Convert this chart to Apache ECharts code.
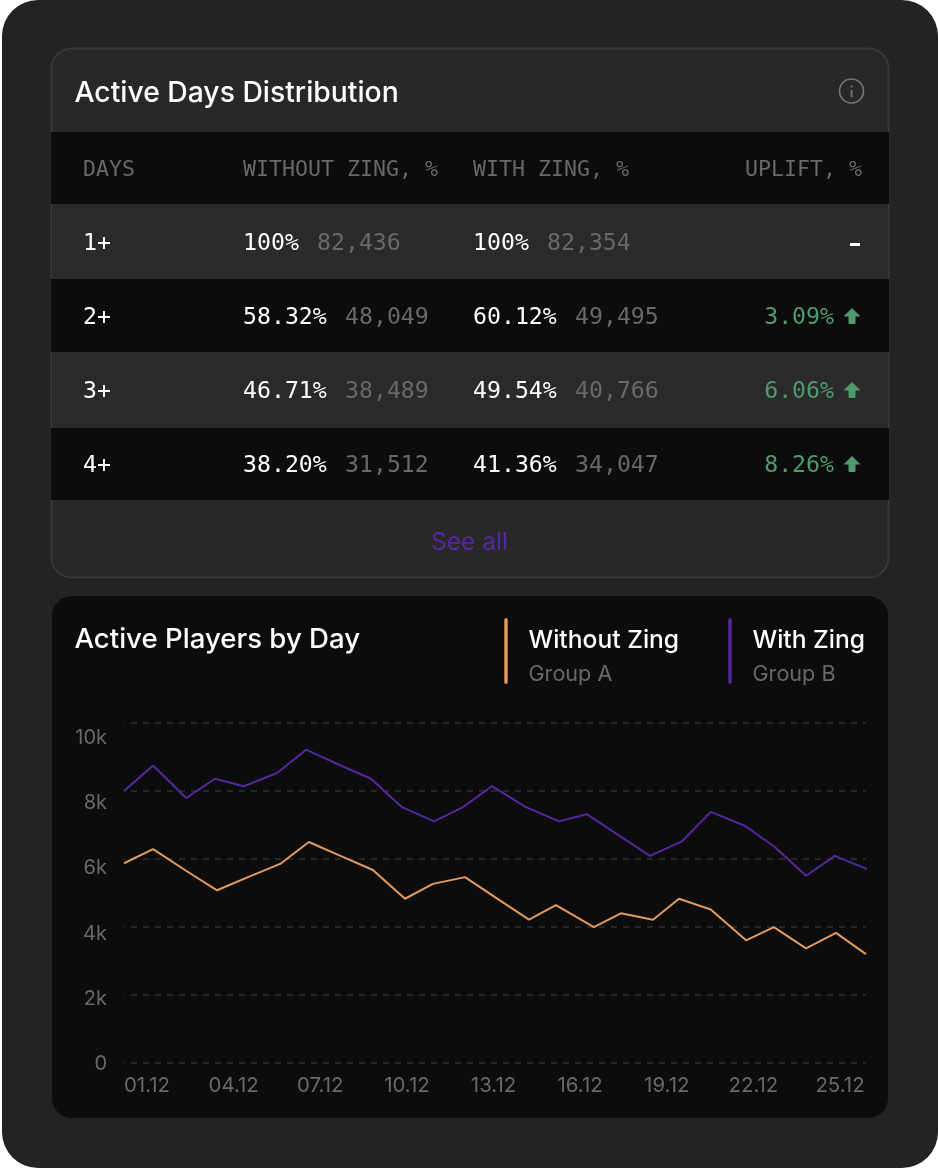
<!DOCTYPE html>
<html><head><meta charset="utf-8">
<script src="https://cdn.jsdelivr.net/npm/echarts@6/dist/echarts.min.js"></script>
<style>html,body{margin:0;padding:0;background:#fff}#c{width:938px;height:1168px}</style>
</head><body><div id="c"></div>
<script>
// table data
const tableHeaders = ['DAYS','WITHOUT ZING, %','WITH ZING, %','UPLIFT, %'];
const dayRows = ['1+','2+','3+','4+'];
const withoutPct = ['100%','58.32%','46.71%','38.20%'];
const withoutCount = ['82,436','48,049','38,489','31,512'];
const withPct = ['100%','60.12%','49.54%','41.36%'];
const withCount = ['82,354','49,495','40,766','34,047'];
const uplift = ['-','3.09%','6.06%','8.26%'];
const withoutDay = [0,0.94,1.97,3.01,4.01,5.05,5.98,7.02,8.05,9.09,9.99,11.03,12.06,13.10,13.97,15.20,16.07,17.11,17.95,18.98,20.12,21.02,22.06,23.03,24];
const withoutVal = [5875,6292,5676,5080,5467,5855,6501,6084,5676,4831,5268,5467,4841,4215,4642,3996,4404,4215,4831,4513,3608,3996,3370,3827,3201];
const withDay = [0,0.94,2.01,2.94,3.88,4.95,5.89,6.92,7.99,8.99,10.03,10.96,11.90,13.0,14.07,14.97,15.98,17.01,18.05,18.98,20.08,21.05,22.06,22.99,24.06];
const withVal = [8002,8748,7793,8360,8141,8529,9215,8787,8360,7525,7107,7525,8141,7525,7107,7316,6710,6093,6521,7386,6978,6352,5507,6093,5696];
const xTickLabels = ['01.12','04.12','07.12','10.12','13.12','16.12','19.12','22.12','25.12'];

const SANS = 'Inter, "Noto Sans", sans-serif';
const MONO = '"DejaVu Sans Mono", monospace';
const ORANGE = '#e39a5f', PURPLE = '#54289e', WHITE = '#ffffff', GREY = '#68686d', GREEN = '#4f9a6e';
const DARK = '#0c0c0c', LIGHT = '#2a2a2a';

const g = [];
const rect = (x,y,w,h,fill,r,stroke,lw,z) => g.push({type:'rect',silent:true,z:z||-10,shape:{x,y,width:w,height:h,r:r||0},style:{fill,stroke:stroke||null,lineWidth:lw||0}});
const text = (t,x,y,size,fill,font,align,weight) => g.push({type:'text',silent:true,z:10,x,y,style:{text:t,fill,font:`${weight||400} ${size}px ${font}`,textAlign:align||'left',textVerticalAlign:'middle'}});

rect(2,0,936,1168,'#232323',36,null,0,-30);
rect(51.5,48.5,837,529,'#282828',20,'#38383a',2,-29);
rect(51,132,838,72,DARK);
const rowTop = [204,279,352,428], rowH = [75,73,76,72];
rowTop.forEach((y,i)=>{ if(i%2===0) rect(52,y,836,rowH[i],LIGHT,0,null,0,-9); else rect(51,y,838,rowH[i],DARK,0,null,0,-9); });
rect(52,596,836,522,DARK,20,null,0,-29);

text('Active Days Distribution',74.5,93.5,28.3,WHITE,SANS,'left',500);
text('Active Players by Day',74.5,640,27.6,WHITE,SANS,'left',500);
text('See all',469.5,543,24.5,PURPLE,SANS,'center');
// info icon
g.push({type:'circle',silent:true,z:10,shape:{cx:851.5,cy:91,r:12},style:{fill:null,stroke:'#77777a',lineWidth:1.6}});
rect(850.7,90,1.8,7,'#77777a',0,null,0,10);
rect(850.7,85.5,1.8,2,'#77777a',0,null,0,10);

// table text
const hx=[83,243,473,862], ha=['left','left','left','right'];
tableHeaders.forEach((t,i)=>text(t,hx[i],170.5,21.6,GREY,MONO,ha[i]));
const rowY=[242,316,390,464];
const CH=14, GAP=18;
dayRows.forEach((d,i)=>{
  const y=rowY[i], ty=y+2;
  text(d,83,ty,23.2,WHITE,MONO);
  text(withoutPct[i],243,ty,23.2,WHITE,MONO);
  text(withoutCount[i],243+withoutPct[i].length*CH+GAP,ty,23.2,GREY,MONO);
  text(withPct[i],473,ty,23.2,WHITE,MONO);
  text(withCount[i],473+withPct[i].length*CH+GAP,ty,23.2,GREY,MONO);
  if(uplift[i]==='-'){ rect(850,y+1,10,3,WHITE,0,null,0,10); }
  else {
    text(uplift[i],834,ty,23.2,GREEN,MONO,'right');
    g.push({type:'polygon',silent:true,z:10,shape:{points:[[852,y-7.5],[859.5,y],[855,y],[855,y+7.5],[849,y+7.5],[849,y],[844.5,y]]},style:{fill:GREEN,stroke:GREEN,lineWidth:1,lineJoin:'round'}});
  }
});
// legend
rect(504.3,618,3.4,66,ORANGE,1.7,null,0,10);
rect(728.3,618,3.4,66,PURPLE,1.7,null,0,10);
text('Without Zing',528.5,641,24.6,WHITE,SANS,'left',500);
text('Group A',528.5,674,21.6,GREY,SANS);
text('With Zing',752.5,641,24.6,WHITE,SANS,'left',500);
text('Group B',752.5,674,21.6,GREY,SANS);

const chart = echarts.init(document.getElementById('c'),null,{width:938,height:1168});
const pairs=(a,b)=>a.map((v,i)=>[v,b[i]]);
chart.setOption({
  animation:false,
  graphic:{elements:g},
  grid:[
    {left:124,right:72,top:723,height:340,containLabel:false},
    {left:147,right:98,top:738,height:326,containLabel:false}
  ],
  xAxis:[
    {gridIndex:0,type:'value',min:0,max:24,show:false,splitLine:{show:false}},
    {gridIndex:1,type:'category',boundaryGap:false,data:xTickLabels,
      axisLine:{show:false},axisTick:{show:false},splitLine:{show:false},
      axisLabel:{interval:0,margin:12,color:GREY,fontFamily:SANS,fontSize:20.4}}
  ],
  yAxis:[
    {gridIndex:0,type:'value',min:0,max:10000,interval:2000,
      axisLine:{show:false},axisTick:{show:false},axisLabel:{show:false},
      splitLine:{show:true,lineStyle:{color:'#262626',type:[6,6],dashOffset:5,width:2}}},
    {gridIndex:1,type:'value',min:0,max:10000,interval:2000,
      axisLine:{show:false},axisTick:{show:false},splitLine:{show:false},
      axisLabel:{margin:40,color:GREY,fontFamily:SANS,fontSize:20,
        formatter:v=>v===0?'0':(v/1000)+'k'}}
  ],
  series:[
    {name:'Without Zing',type:'line',xAxisIndex:0,yAxisIndex:0,data:pairs(withoutDay,withoutVal),symbol:'none',clip:false,lineStyle:{color:ORANGE,width:2}},
    {name:'With Zing',type:'line',xAxisIndex:0,yAxisIndex:0,data:pairs(withDay,withVal),symbol:'none',clip:false,lineStyle:{color:PURPLE,width:2}}
  ]
});
</script></body></html>
